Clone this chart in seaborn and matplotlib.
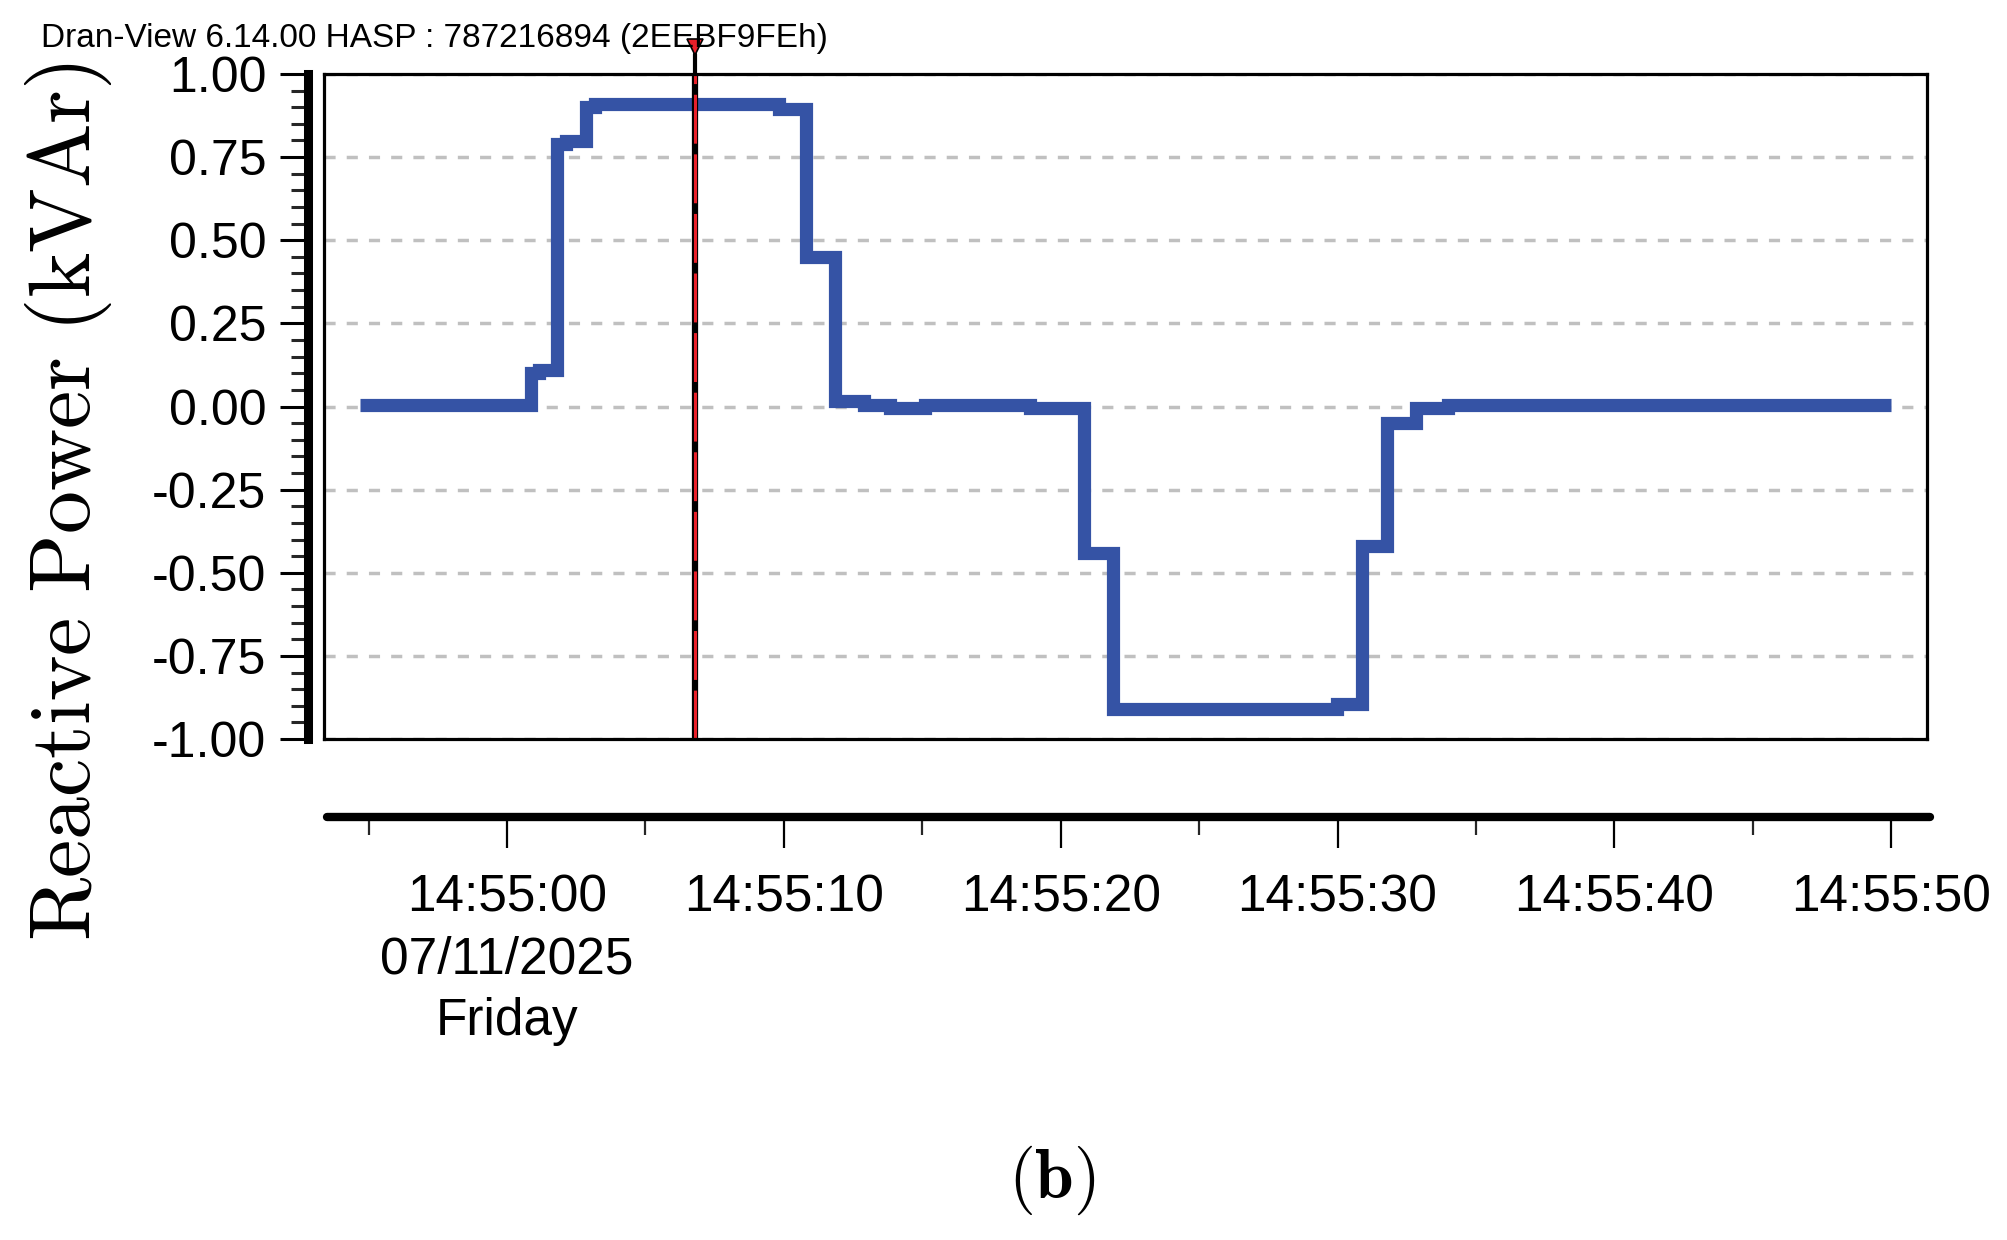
import numpy as np
import matplotlib
matplotlib.use("Agg")
import matplotlib.pyplot as plt
import seaborn as sns

# data: seconds after 14:55:00, reactive power (kVAr), step changes
times = [-5.2, 0.98, 1.25, 1.9, 2.25, 2.95, 3.3, 9.95, 10.9, 11.95, 13.0, 13.95, 15.2,
         19.0, 20.95, 22.0, 30.1, 31.0, 31.9, 32.95, 34.1, 50.1]
values = [0.005, 0.10, 0.11, 0.79, 0.80, 0.90, 0.91, 0.895, 0.45, 0.018, 0.006, -0.005,
          0.006, -0.005, -0.44, -0.91, -0.895, -0.42, -0.05, -0.005, 0.005, 0.005]

y_ticks = [1.0, 0.75, 0.5, 0.25, 0.0, -0.25, -0.5, -0.75, -1.0]
y_labels = ["1.00", "0.75", "0.50", "0.25", "0.00", "-0.25", "-0.50", "-0.75", "-1.00"]
x_ticks = [0, 10, 20, 30, 40, 50]
x_labels = ["14:55:00\n07/11/2025\nFriday", "14:55:10", "14:55:20", "14:55:30",
            "14:55:40", "14:55:50"]
cursor_t = 6.9
header = "Dran-View 6.14.00 HASP : 787216894 (2EEBF9FEh)"

sns.set_style("white")
plt.rcParams["font.family"] = ["Liberation Sans", "DejaVu Sans"]
plt.rcParams["mathtext.fontset"] = "cm"
plt.rcParams["text.color"] = "black"

W, H = 2008, 1240
fig = plt.figure(figsize=(W / 100, H / 100), dpi=100)

xlim = (-6.5, 51.4)
left, right, top, bottom = 324, 1927, 74, 739
ax = fig.add_axes([left / W, 1 - bottom / H, (right - left) / W, (bottom - top) / H])

# grid
for yv in y_ticks:
    ax.axhline(yv, color="#c0c0c0", lw=2.5, ls=(0, (3.2, 3.2)), zorder=1)

sns.lineplot(x=times, y=values, ax=ax, drawstyle="steps-post", color="#3553a5",
             lw=9.5, solid_capstyle="butt", solid_joinstyle="miter", zorder=3)

# cursor
ax.axvline(cursor_t, color="black", lw=4.5, zorder=4)
ax.axvline(cursor_t, color="#e8202a", lw=2.2, ls=(0, (16, 3.5)), zorder=5)
ax.plot([cursor_t, cursor_t], [1.0, 1.06], color="black", lw=3, clip_on=False, zorder=6)
ax.plot([cursor_t], [1.08], marker="v", ms=11, mfc="#e8202a", mec="black", mew=1.2,
        clip_on=False, zorder=7)

ax.set_xlim(*xlim)
ax.set_ylim(-1, 1)
ax.set_xticks([])
ax.set_yticks([])
ax.set_xlabel("")
ax.set_ylabel("")
for s in ax.spines.values():
    s.set_visible(True)
    s.set_color("black")
    s.set_linewidth(2.3)
    s.set_zorder(8)

# separate y axis
yx = 308
ay = fig.add_axes([yx / W, 1 - bottom / H, 0.0001, (bottom - top) / H])
ay.set_ylim(-1, 1)
ay.patch.set_visible(False)
for k in ["top", "right", "bottom"]:
    ay.spines[k].set_visible(False)
ay.spines["left"].set_linewidth(6.5)
ay.spines["left"].set_color("black")
ay.set_xticks([])
ay.set_yticks(y_ticks)
ay.set_yticklabels(y_labels)
ay.set_yticks(np.arange(-1.0, 1.0001, 0.05), minor=True)
ay.tick_params(axis="y", which="both", left=True, right=False)
ay.tick_params(axis="y", which="major", direction="out", length=20, width=2.2,
               pad=10, labelsize=36, colors="black")
ay.tick_params(axis="y", which="minor", direction="out", length=12, width=2.2)

# separate x axis
xl = 817
axx = fig.add_axes([327 / W, 1 - xl / H, (1930 - 327) / W, 0.0001])
axx.set_xlim(*xlim)
axx.patch.set_visible(False)
for k in ["top", "right", "left"]:
    axx.spines[k].set_visible(False)
axx.spines["bottom"].set_linewidth(6)
axx.spines["bottom"].set_color("black")
axx.spines["bottom"].set_capstyle("round")
axx.set_yticks([])
axx.set_xticks(x_ticks)
axx.set_xticklabels(x_labels, linespacing=1.33)
axx.set_xticks(np.arange(-5, 50, 10), minor=True)
axx.tick_params(axis="x", which="both", bottom=True, top=False)
axx.tick_params(axis="x", which="major", direction="out", length=22, width=1.6,
                pad=19, labelsize=37, colors="black")
axx.tick_params(axis="x", which="minor", direction="out", length=13, width=1.6)

fig.text(41 / W, 1 - 38 / H, header, fontsize=24, va="center", ha="left")
fig.text(68 / W, 1 - 502 / H, r"$\mathrm{Reactive\ Power\ (kVAr)}$", rotation=90,
         fontsize=62, va="center", ha="center")
fig.text(1052 / W, 1 - 1180 / H, r"$\mathbf{(b)}$", fontsize=50, va="center", ha="center")

fig.savefig("out.png", dpi=100, facecolor="white")
